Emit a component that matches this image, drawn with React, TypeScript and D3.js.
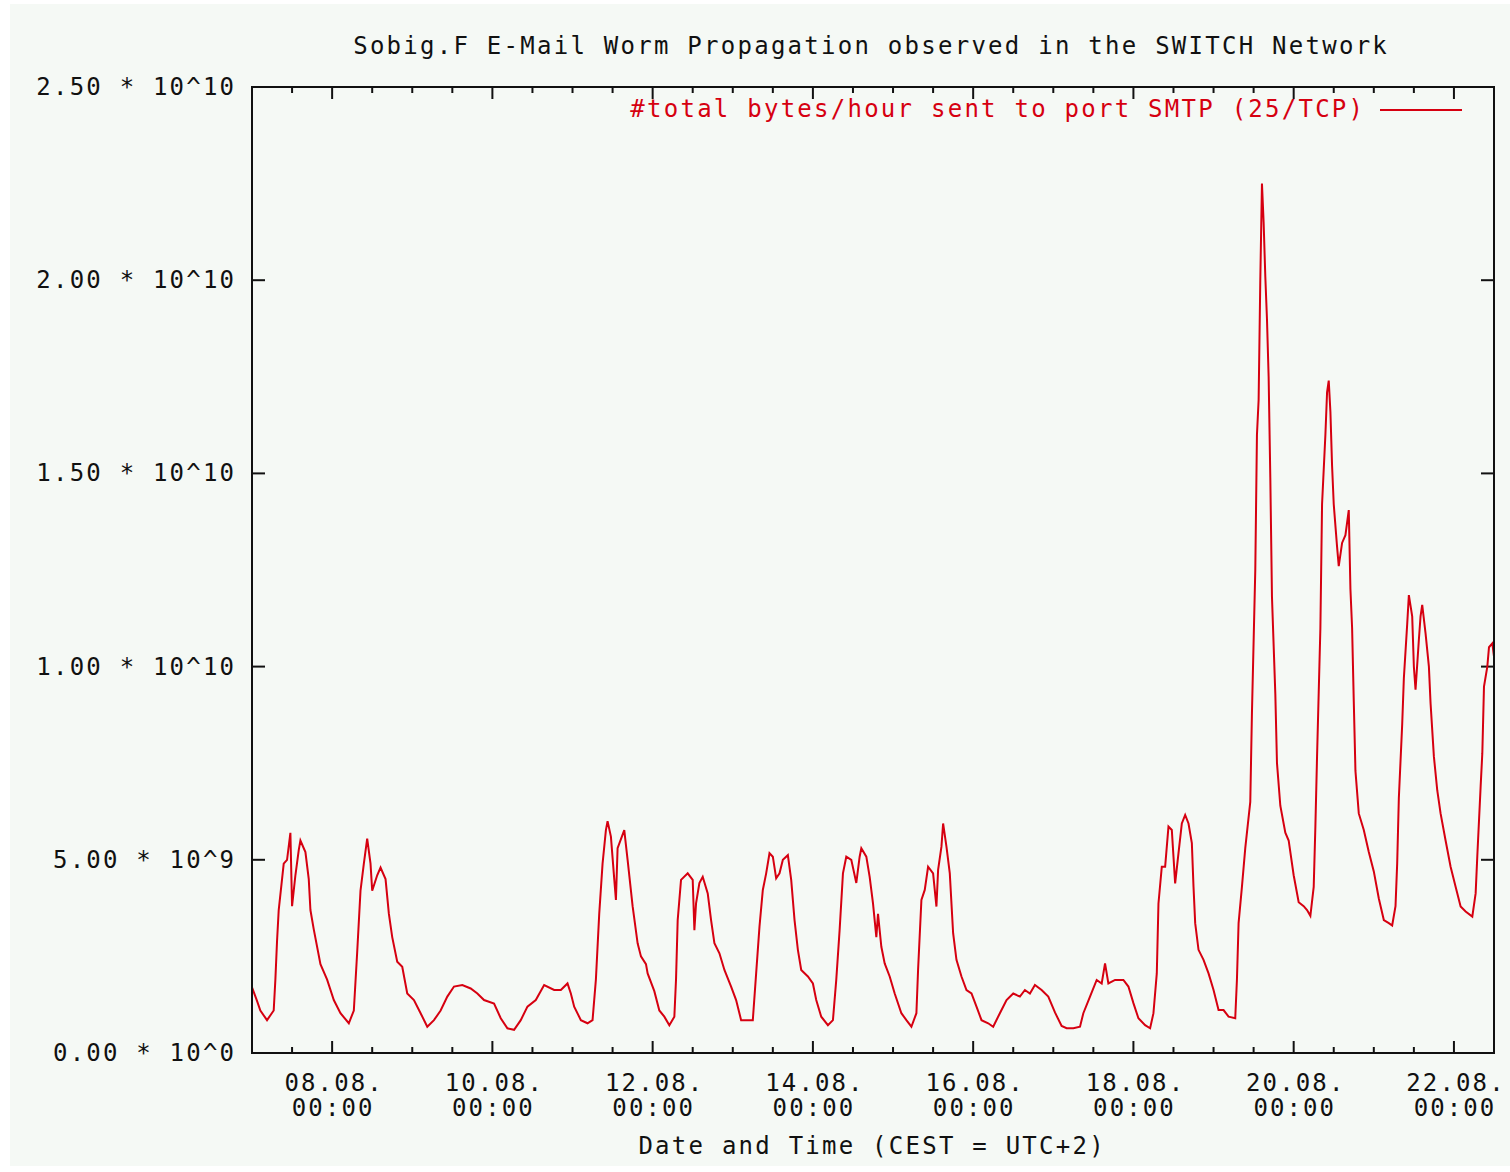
import React from "react";
import * as d3 from "d3";

// ---- DATA ----
// hours since 07.08.2003 00:00 CEST
const hoursSinceStart: number[] = [
  0, 1.5, 2.5, 4.5, 6.5, 7, 7.5, 8, 9, 9.5, 10.5, 11.5, 12, 13, 14, 14.5, 16, 17, 17.5, 18.5,
  20.5, 22.5, 24.5, 26.5, 29, 30.5, 31.5, 32.5, 33.5, 34.5, 35.5, 36, 37.5, 38.5, 40, 41, 42, 43.5,
  45, 46.5, 48.5, 50.5, 52.5, 54.5, 56.5, 58.5, 60.5, 63, 65.5, 67.5, 69.5, 72.5, 74.5, 76.5, 78.5,
  80.5, 82.5, 85, 87.5, 90.5, 92.5, 94.5, 95.5, 96.5, 98.5, 100.5, 102, 103, 104, 105, 106, 106.5,
  107.5, 108.5, 109, 109.5, 111.5, 112.5, 114, 115.5, 116.5, 118, 118.5, 120.5, 122, 123.5, 125,
  126.5, 127, 127.5, 128.5, 130.5, 132, 132.5, 133, 134, 135, 136.5, 137.5, 138.5, 140, 141.5,
  143.5, 145, 146.5, 148.5, 150, 151, 152, 153, 154, 155, 156, 157, 158, 159, 160.5, 161.5, 162.5,
  163.5, 164.5, 166.5, 168, 169, 170.5, 172.5, 174, 175, 176, 177, 178, 179.5, 181, 182, 182.5,
  184, 185, 186, 187, 187.5, 188.5, 189.5, 191, 192.5, 194.5, 196, 197.5, 199, 199.5, 200.5, 201.5,
  202.5, 204, 205, 205.5, 206.5, 207, 208, 209, 210, 211, 212.5, 214, 215.5, 217, 218.5, 220.5,
  222, 224, 226, 228, 230, 231.5, 233, 234.5, 236.5, 238.5, 240.5, 242.5, 244, 246, 248, 249, 251,
  253, 254.5, 255.5, 256.5, 258.5, 261, 262.5, 264, 265.5, 267.5, 269, 270, 271, 271.5, 272.5,
  273.5, 274.5, 275.5, 276, 276.5, 277.5, 278.5, 279.5, 280.5, 281.5, 282, 282.5, 283.5, 285,
  286.5, 288, 289.5, 291, 292.5, 294.5, 295, 295.5, 296.5, 297.5, 299, 299.5, 300.5, 301, 301.5,
  302, 302.5, 303, 303.5, 304, 304.5, 305, 305.5, 306.5, 307, 308, 309.5, 310.5, 312, 313.5, 315,
  316, 317, 318, 318.5, 319, 320, 320.5, 321.5, 322, 322.5, 323, 323.5, 324, 325, 325.5, 326.5,
  327.5, 328.5, 329, 329.5, 330, 330.5, 331.5, 333, 334.5, 336, 337.5, 339, 340.5, 341.5, 342.5,
  343, 343.5, 344.5, 345, 346, 346.5, 347.5, 348, 348.5, 349.5, 350, 350.5, 351.5, 352.5, 353, 354,
  355, 356, 357.5, 359, 360.5, 362, 363.5, 365.5, 366.5, 367, 368, 368.5, 369, 370, 370.5, 371.5, 372,
];

// total bytes/hour, in units of 10^9
const bytesPerHourE9: number[] = [
  1.7, 1.35, 1.1, 0.85, 1.1, 1.9, 2.9, 3.7, 4.5, 4.9, 5.0, 5.7, 3.8, 4.6, 5.25, 5.5, 5.2, 4.5, 3.7, 3.2,
  2.3, 1.9, 1.37, 1.03, 0.77, 1.1, 2.6, 4.2, 4.9, 5.55, 4.9, 4.2, 4.6, 4.8, 4.5, 3.6, 3.0, 2.36,
  2.23, 1.54, 1.37, 1.03, 0.68, 0.85, 1.1, 1.46, 1.72, 1.76, 1.67, 1.54, 1.37, 1.28, 0.9, 0.64, 0.6,
  0.85, 1.2, 1.37, 1.76, 1.63, 1.63, 1.8, 1.54, 1.2, 0.85, 0.77, 0.85, 1.9, 3.6, 4.9, 5.77, 6.0,
  5.6, 4.5, 3.96, 5.3, 5.77, 5.0, 3.8, 2.84, 2.5, 2.3, 2.06, 1.6, 1.1, 0.94, 0.72,
  0.94, 1.9, 3.44, 4.48, 4.65, 4.48, 3.18, 3.87, 4.4, 4.56, 4.13, 3.44, 2.84, 2.58, 2.15,
  1.72, 1.37, 0.85, 0.85, 0.85, 2.06, 3.27, 4.22, 4.65, 5.17, 5.08, 4.52, 4.65, 5.0, 5.12, 4.48, 3.44,
  2.67, 2.15, 1.98, 1.8, 1.37, 0.94, 0.72, 0.85, 1.9, 3.18, 4.65, 5.08, 5.0, 4.4, 5.08, 5.3,
  5.08, 4.56, 3.87, 3.0, 3.6, 2.75, 2.32, 1.98, 1.54, 1.03, 0.85, 0.68, 1.03, 2.15, 3.96, 4.22,
  4.82, 4.65, 3.79, 4.74, 5.34, 5.94, 5.34, 4.65, 3.1, 2.41, 1.98, 1.63, 1.54, 1.2, 0.85, 0.77,
  0.68, 1.03, 1.37, 1.54, 1.46, 1.63, 1.54, 1.76, 1.63, 1.46, 1.05, 0.7, 0.64, 0.64, 0.68, 1.03, 1.46,
  1.89, 1.8, 2.32, 1.8, 1.89, 1.89, 1.72, 1.29, 0.9, 0.72, 0.64, 1.03, 2.06, 3.87, 4.82,
  4.82, 5.86, 5.77, 5.08, 4.39, 5.17, 5.94, 6.16, 5.94, 5.43, 4.3, 3.36, 2.67, 2.41,
  2.06, 1.63, 1.11, 1.11, 0.94, 0.9, 1.89, 3.36, 4.3, 5.3, 6.5, 8.8, 12.5, 16.0, 16.9,
  20.0, 22.5, 21.5, 20.1, 19.0, 17.5, 14.9, 11.8, 9.3, 7.5, 6.4, 5.7, 5.5, 4.6, 3.9, 3.8,
  3.7, 3.55, 4.3, 5.86, 7.67, 11.0, 14.2, 16.0, 17.1, 17.4, 16.6, 15.2, 14.2, 13.1, 12.6, 13.2,
  13.4, 14.05, 12.0, 11.0, 9.1, 7.3, 6.2, 5.77, 5.2, 4.7, 4.0, 3.44, 3.36, 3.3, 3.8,
  4.9, 6.6, 8.5, 9.7, 11.1, 11.85, 11.3, 10.0, 9.4, 10.7, 11.3, 11.6, 10.86, 10.0, 9.05, 7.67,
  6.8, 6.2, 5.5, 4.82, 4.3, 3.79, 3.66, 3.53, 4.13, 5.1, 6.9, 7.76, 9.48, 10.0, 10.5, 10.6, 10.26,
];

const yTickValues: number[] = [0, 5e9, 1e10, 1.5e10, 2e10, 2.5e10];
const yTickLabels: string[] = [
  "0.00 * 10^0", "5.00 * 10^9", "1.00 * 10^10", "1.50 * 10^10", "2.00 * 10^10", "2.50 * 10^10",
];
const xMajorDays: number[] = [8, 10, 12, 14, 16, 18, 20, 22]; // August 2003
const xTickDateLabels: string[] = ["08.08.", "10.08.", "12.08.", "14.08.", "16.08.", "18.08.", "20.08.", "22.08."];
const xTickTimeLabels: string[] = ["00:00", "00:00", "00:00", "00:00", "00:00", "00:00", "00:00", "00:00"];

const titleText = "Sobig.F E-Mail Worm Propagation observed in the SWITCH Network";
const legendText = "#total bytes/hour sent to port SMTP (25/TCP)";
const xAxisTitle = "Date and Time (CEST = UTC+2)";

// ---- LAYOUT ----
const W = 1510;
const H = 1172;
const L = 252, R = 1494, T = 87, B = 1053;
const CHAR = 16.72;
const FONT = "'DejaVu Sans Mono', 'Liberation Mono', monospace";
const FS = 24;
const RED = "#d60010";
const INK = "#111";
const BG = "#f5f9f5";

const START = Date.UTC(2003, 7, 7, 0, 0);
const END = Date.UTC(2003, 7, 22, 12, 0);

const tl = (s: string) => s.length * CHAR - 3;

export default function App() {
  const x = d3.scaleUtc().domain([new Date(START), new Date(END)]).range([L, R]);
  const y = d3.scaleLinear().domain([0, 2.5e10]).range([B, T]);

  const data = hoursSinceStart.map((h, i) => ({
    t: new Date(START + h * 3600e3),
    v: bytesPerHourE9[i] * 1e9,
  }));

  const line = d3
    .line<{ t: Date; v: number }>()
    .x((d) => x(d.t))
    .y((d) => y(d.v));

  const minorTicks = d3.utcHour
    .every(12)!
    .range(new Date(START + 1), new Date(END))
    .filter((d) => !(d.getUTCHours() === 0 && xMajorDays.includes(d.getUTCDate())));
  const majorTicks = xMajorDays.map((d) => new Date(Date.UTC(2003, 7, d, 0, 0)));

  return (
    <svg
      width={W}
      height={H}
      style={{ position: "absolute", left: 0, top: 0, display: "block" }}
      fontFamily={FONT}
      fontSize={FS}
    >
      <rect x={0} y={0} width={W} height={H} fill="#ffffff" />
      <rect x={10} y={4} width={W - 10} height={1162} fill={BG} />

      {/* title */}
      <text x={870} y={54} textAnchor="middle" fill={INK} textLength={tl(titleText)} lengthAdjust="spacing">
        {titleText}
      </text>

      {/* y ticks */}
      {yTickValues.map((v, i) => (
        <g key={"y" + i}>
          <line x1={L} x2={L + 13} y1={y(v)} y2={y(v)} stroke={INK} strokeWidth={2} />
          <line x1={R - 13} x2={R} y1={y(v)} y2={y(v)} stroke={INK} strokeWidth={2} />
          <text
            x={234}
            y={y(v) + 8}
            textAnchor="end"
            fill={INK}
            textLength={tl(yTickLabels[i])}
            lengthAdjust="spacing"
          >
            {yTickLabels[i]}
          </text>
        </g>
      ))}

      {/* x ticks */}
      {minorTicks.map((d, i) => (
        <g key={"m" + i}>
          <line x1={x(d)} x2={x(d)} y1={B} y2={B - 6} stroke={INK} strokeWidth={2} />
          <line x1={x(d)} x2={x(d)} y1={T} y2={T + 6} stroke={INK} strokeWidth={2} />
        </g>
      ))}
      {majorTicks.map((d, i) => (
        <g key={"M" + i}>
          <line x1={x(d)} x2={x(d)} y1={B} y2={B - 12} stroke={INK} strokeWidth={2} />
          <line x1={x(d)} x2={x(d)} y1={T} y2={T + 12} stroke={INK} strokeWidth={2} />
          <text
            x={x(d) + 1}
            y={1091}
            textAnchor="middle"
            fill={INK}
            textLength={tl(xTickDateLabels[i])}
            lengthAdjust="spacing"
          >
            {xTickDateLabels[i]}
          </text>
          <text
            x={x(d)}
            y={1116}
            textAnchor="middle"
            fill={INK}
            textLength={tl(xTickTimeLabels[i])}
            lengthAdjust="spacing"
          >
            {xTickTimeLabels[i]}
          </text>
        </g>
      ))}

      {/* axis title */}
      <text x={871} y={1154} textAnchor="middle" fill={INK} textLength={tl(xAxisTitle)} lengthAdjust="spacing">
        {xAxisTitle}
      </text>

      {/* data */}
      <path d={line(data) || ""} fill="none" stroke={RED} strokeWidth={2} strokeLinejoin="miter" />

      {/* frame */}
      <rect x={L} y={T} width={R - L} height={B - T} fill="none" stroke={INK} strokeWidth={2} />

      {/* legend */}
      <text x={1363} y={117} textAnchor="end" fill={RED} textLength={tl(legendText)} lengthAdjust="spacing">
        {legendText}
      </text>
      <line x1={1380} x2={1462} y1={110} y2={110} stroke={RED} strokeWidth={2} />
    </svg>
  );
}
